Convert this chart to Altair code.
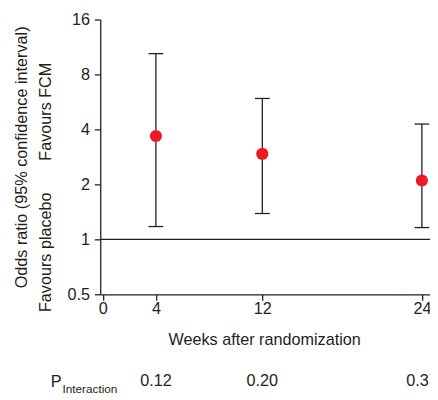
import altair as alt
import pandas as pd

# ---- data ----
weeks = [4, 12, 24]
odds_ratio = [3.68, 2.94, 2.10]
ci_lower = [1.175, 1.385, 1.16]
ci_upper = [10.4, 5.91, 4.28]
p_interaction = ["0.12", "0.20", "0.37"]
x_ticks = [0, 4, 12, 24]
y_ticks = [0.5, 1, 2, 4, 8, 16]
reference_value = [1]
favour_labels = ["Favours FCM", "Favours placebo"]
favour_at = [5.0, 0.85]

FONT = "Liberation Sans"
INK = "#231f20"
RED = "#ed1c24"
FS = 16.5

df = pd.DataFrame({"week": weeks, "or": odds_ratio, "lo": ci_lower,
                   "hi": ci_upper, "p": p_interaction})
ref_df = pd.DataFrame({"or": reference_value})
fav_df = pd.DataFrame({"label": favour_labels, "or": favour_at})

xscale = alt.Scale(domain=[-0.1845, 24.61], nice=False, zero=False)
yscale = alt.Scale(type="log", base=2, domain=[0.5, 16], nice=False)

x_axis = alt.Axis(values=x_ticks, title="Weeks after randomization",
                  titleX=167, titleY=46.5, titleBaseline="middle",
                  labelPadding=1, grid=False)
y_axis = alt.Axis(values=y_ticks, format="~g",
                  title="Odds ratio (95% confidence interval)",
                  titleAngle=270, titleX=-80, titleY=140,
                  titleBaseline="middle", titleAlign="center",
                  labelPadding=5, grid=False)


def X(field):
    return alt.X(field, type="quantitative", scale=xscale, axis=x_axis)


def Y(field):
    return alt.Y(field, type="quantitative", scale=yscale, axis=y_axis)


base = alt.Chart(df)

ref_line = alt.Chart(ref_df).mark_rule(color=INK, strokeWidth=1.3).encode(
    y=Y("or"))

bars = base.mark_rule(color=INK, strokeWidth=1.3).encode(
    x=X("week"), y=Y("lo"), y2="hi")

caps = base.transform_fold(["lo", "hi"], as_=["end", "val"]).mark_tick(
    color=INK, thickness=1.3, size=15, orient="horizontal", opacity=1
).encode(x=X("week"), y=Y("val"))

points = base.mark_circle(color=RED, size=155, opacity=1).encode(
    x=X("week"), y=Y("or"))

favours = alt.Chart(fav_df).mark_text(
    angle=270, font=FONT, fontSize=FS, color=INK, align="center",
    baseline="middle"
).encode(x=alt.value(-55), y=Y("or"), text="label:N")

p_vals = base.mark_text(font=FONT, fontSize=FS, color=INK, align="center",
                        baseline="middle").encode(
    x=X("week"), y=alt.value(368.5), text="p:N")

p_main = alt.Chart(pd.DataFrame({"t": ["P"]})).mark_text(
    font=FONT, fontSize=FS, color=INK, align="center", baseline="middle"
).encode(x=alt.value(-45), y=alt.value(369), text="t:N")

p_sub = alt.Chart(pd.DataFrame({"t": ["Interaction"]})).mark_text(
    font=FONT, fontSize=12, color=INK, align="left", baseline="middle"
).encode(x=alt.value(-38.5), y=alt.value(377), text="t:N")

chart = alt.layer(ref_line, bars, caps, points, favours, p_vals, p_main, p_sub).properties(
    width=336, height=280,
    autosize=alt.AutoSizeParams(type="none"),
    padding={"left": 94, "top": 8, "right": 0, "bottom": 104},
).configure_view(stroke=None).configure_axis(
    domainColor=INK, domainWidth=1.3, tickColor=INK, tickWidth=1.3,
    tickSize=6, labelColor=INK, labelFont=FONT, labelFontSize=FS,
    titleColor=INK, titleFont=FONT, titleFontSize=FS, titleFontWeight="normal",
    labelFlush=False, labelOverlap=False
)

chart.save("out.html", embed_options={"renderer": "svg", "actions": False})
